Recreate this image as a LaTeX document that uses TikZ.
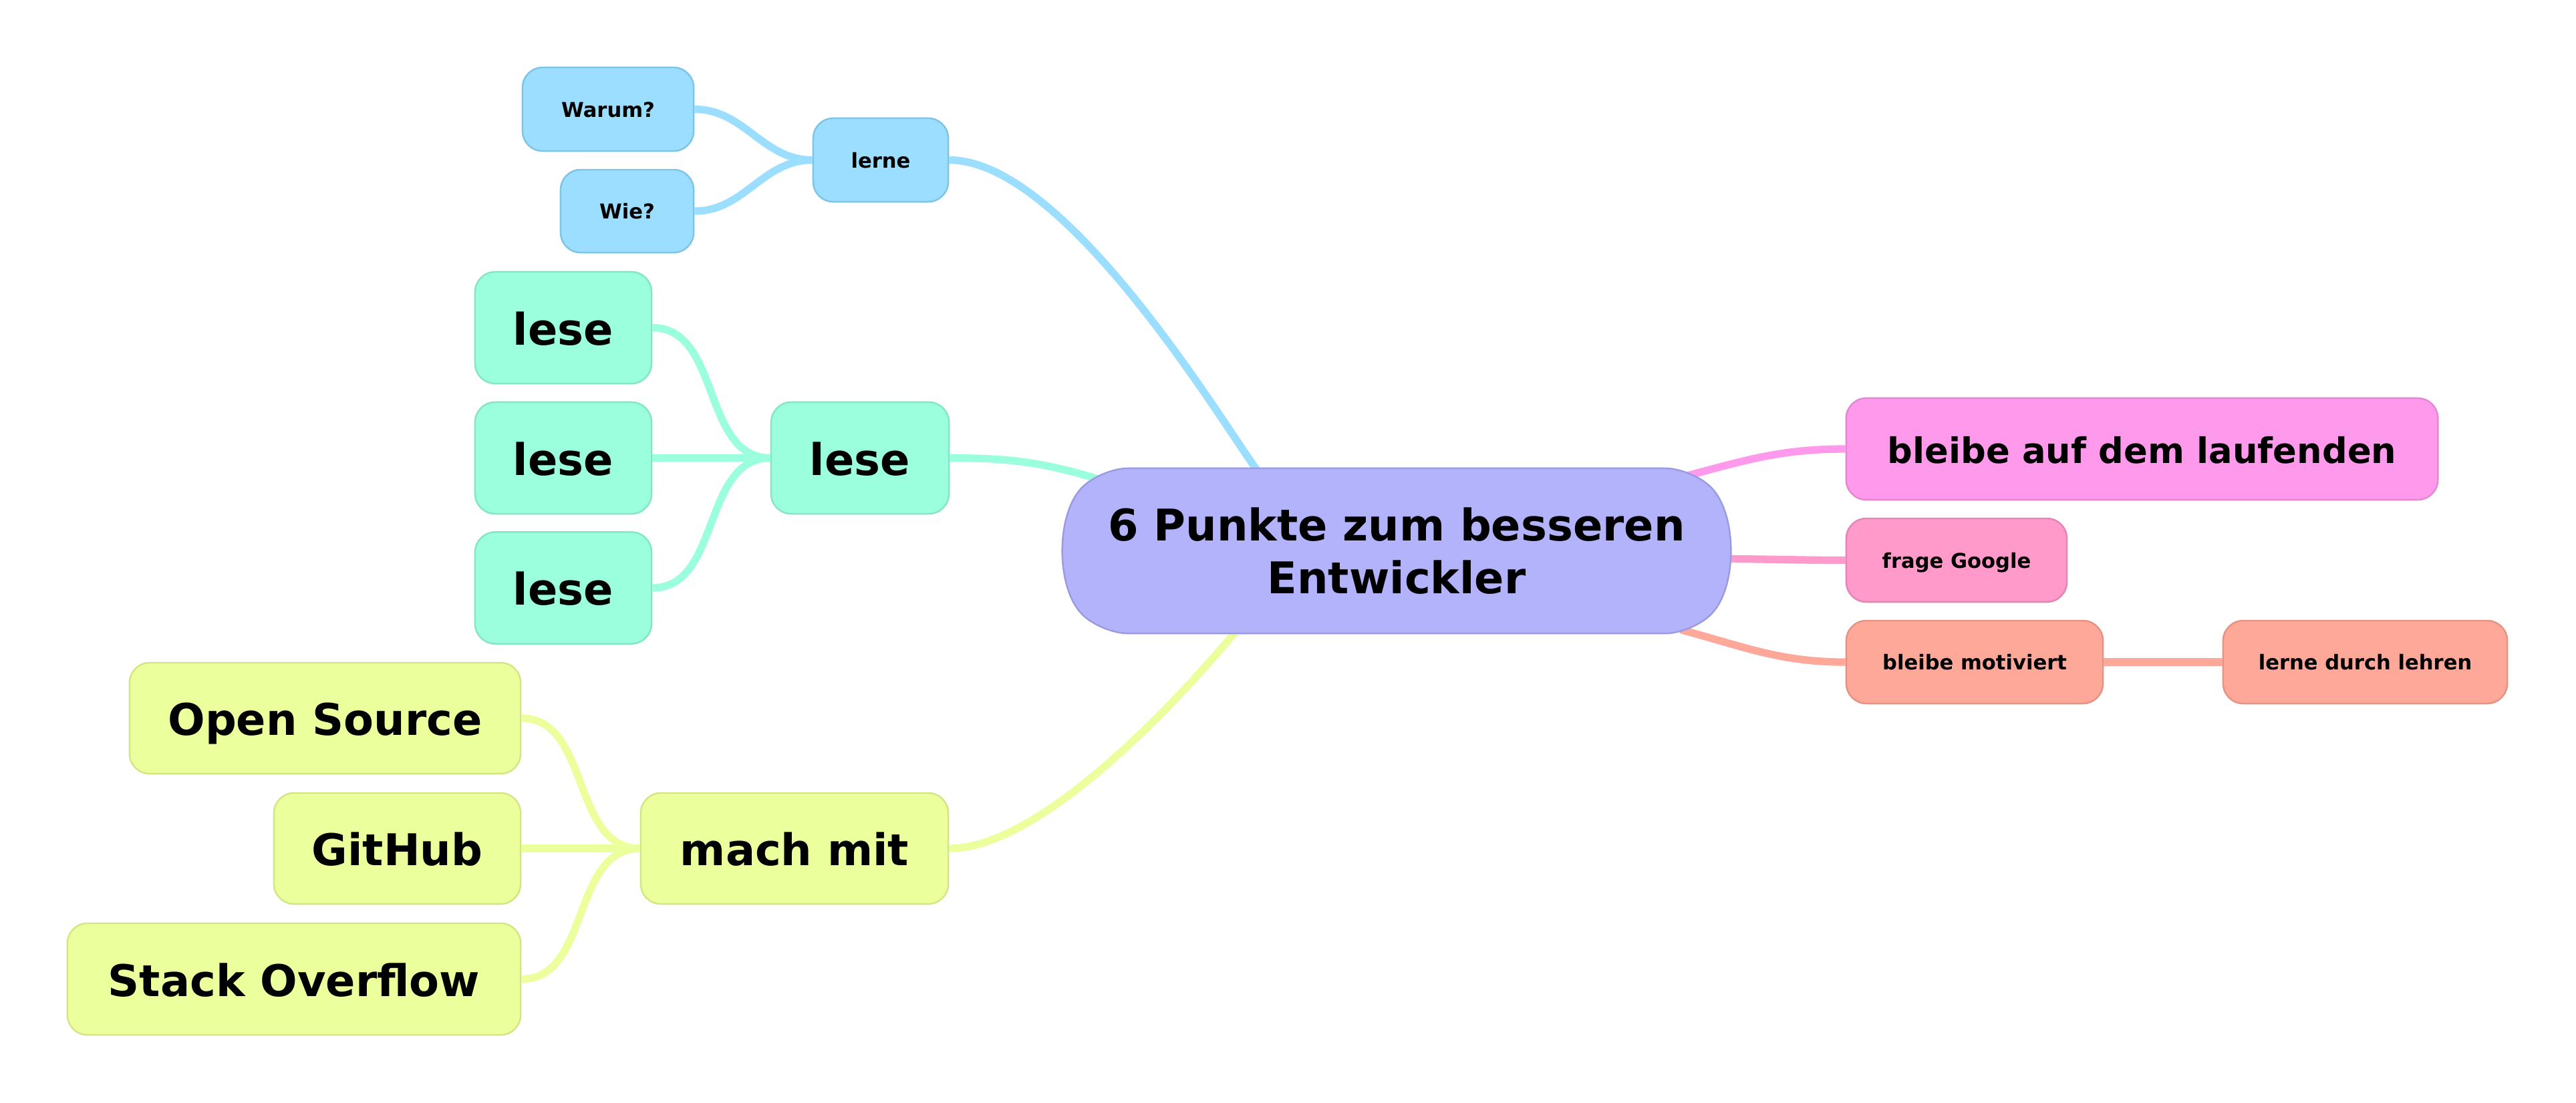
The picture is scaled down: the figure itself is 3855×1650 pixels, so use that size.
\documentclass[tikz,border=0pt]{standalone}
\usepackage{fontspec}
\setmainfont{DejaVu Sans}
\usepackage{tikz}
\usetikzlibrary{shapes.misc,backgrounds,calc}

\definecolor{blueFill}{HTML}{9CDEFF}
\definecolor{blueLine}{HTML}{7EC4E6}
\definecolor{mintFill}{HTML}{9BFFDD}
\definecolor{mintLine}{HTML}{84E6C4}
\definecolor{limeFill}{HTML}{EBFF9C}
\definecolor{limeLine}{HTML}{D4E684}
\definecolor{rootFill}{HTML}{B3B3FC}
\definecolor{rootLine}{HTML}{9B9BE2}
\definecolor{pinkFill}{HTML}{FF99EC}
\definecolor{pinkLine}{HTML}{E388D3}
\definecolor{roseFill}{HTML}{FF9ACB}
\definecolor{roseLine}{HTML}{E485B5}
\definecolor{salmonFill}{HTML}{FDA898}
\definecolor{salmonLine}{HTML}{E69383}

\begin{document}
\begin{tikzpicture}[x=0.01cm, y=0.01cm]
    \tikzset{topic/.style = {shape=rectangle, rounded corners=0.3cm, draw, line width=0.7pt, inner sep=0pt,
        font=\bfseries\fontsize{18.6}{22.4}\selectfont, text height=16.7pt, text depth=2.2pt}}
    \tikzset{small/.style = {font=\bfseries\fontsize{8.7}{10.4}\selectfont, text height=7.8pt, text depth=1pt}}
    \tikzset{dim/.style 2 args = {minimum width=#1, minimum height=#2}}
    \tikzset{edge/.style = {draw, line width=3.2pt}}
    \tikzset{bluebox/.style = {topic, small, fill=blueFill, draw=blueLine}}
    \tikzset{mintbox/.style = {topic, fill=mintFill, draw=mintLine}}
    \tikzset{limebox/.style = {topic, fill=limeFill, draw=limeLine}}

    \useasboundingbox (0,0) rectangle (3855,-1650);

    % vertices
    \node[shape=rounded rectangle, rounded rectangle arc length=90, rounded corners=0.4cm, draw=rootLine, fill=rootFill,
        line width=0.7pt, inner sep=0pt, dim={9.86cm}{2.47cm}, align=center,
        font=\bfseries\fontsize{18.6}{22.4}\selectfont] (root) at (2090,-824.5) {6 Punkte zum besseren\\Entwickler};

    \node[bluebox, dim={2.02cm}{1.25cm}] (lerne) at (1318,-239.5) {lerne};
    \node[bluebox, dim={2.56cm}{1.25cm}] (warum) at (910,-163.5) {Warum?};
    \node[bluebox, dim={1.99cm}{1.24cm}] (wie) at (938.5,-316) {Wie?};

    \node[mintbox, dim={2.66cm}{1.67cm}] (lese) at (1287,-685.5) {lese};
    \node[mintbox, dim={2.64cm}{1.67cm}] (leseA) at (843,-490.5) {lese};
    \node[mintbox, dim={2.64cm}{1.67cm}] (leseB) at (843,-685.5) {lese};
    \node[mintbox, dim={2.64cm}{1.67cm}] (leseC) at (843,-880) {lese};

    \node[limebox, dim={4.60cm}{1.66cm}] (mach) at (1189,-1270) {mach mit};
    \node[limebox, dim={5.85cm}{1.66cm}] (open) at (486.5,-1075) {Open Source};
    \node[limebox, dim={3.69cm}{1.66cm}] (git) at (594.5,-1270) {GitHub};
    \node[limebox, dim={6.78cm}{1.67cm}] (stack) at (440,-1465.5) {Stack Overflow};

    \node[topic, fill=pinkFill, draw=pinkLine, dim={8.85cm}{1.52cm},
        font=\bfseries\fontsize{15}{18}\selectfont, text height=13.6pt, text depth=1.6pt] (auf) at (3205.5,-672) {bleibe auf dem laufenden};
    \node[topic, small, fill=roseFill, draw=roseLine, dim={3.30cm}{1.25cm}] (google) at (2928,-838.5) {frage Google};
    \node[topic, small, fill=salmonFill, draw=salmonLine, dim={3.84cm}{1.24cm}] (motiv) at (2955,-991) {bleibe motiviert};
    \node[topic, small, fill=salmonFill, draw=salmonLine, dim={4.25cm}{1.24cm}] (lehren) at (3539.5,-991) {lerne durch lehren};

    % edges
    \begin{scope}[on background layer]
        \draw[edge, blueFill] (lerne.east) .. controls +(178,0) and +(-46,59) .. ($(root.center)+(-205,115.5)$);
        \draw[edge, mintFill] (lese.east) to[out=0, in=163] ($(root.center)+(-445,107)$);
        \draw[edge, limeFill] (mach.east) .. controls +(165,0) and +(-10,-11) .. ($(root.center)+(-238,-117.5)$);
        \draw[edge, pinkFill] ($(root.center)+(435,112.5)$) to[out=15, in=180] (auf.west);
        \draw[edge, roseFill] ($(root.center)+(480,-12)$) to[out=0, in=180] (google.west);
        \draw[edge, salmonFill] ($(root.center)+(425,-118)$) to[out=-15, in=180] (motiv.west);
    \end{scope}

    \draw[edge, blueFill] (warum.east) to[out=0, in=180] (lerne.west);
    \draw[edge, blueFill] (wie.east) to[out=0, in=180] (lerne.west);
    \draw[edge, mintFill] (leseA.east) to[out=0, in=180] (lese.west);
    \draw[edge, mintFill] (leseB.east) -- (lese.west);
    \draw[edge, mintFill] (leseC.east) to[out=0, in=180] (lese.west);
    \draw[edge, limeFill] (open.east) to[out=0, in=180] (mach.west);
    \draw[edge, limeFill] (git.east) -- (mach.west);
    \draw[edge, limeFill] (stack.east) to[out=0, in=180] (mach.west);
    \draw[edge, salmonFill] (motiv.east) -- (lehren.west);
\end{tikzpicture}
\end{document}
